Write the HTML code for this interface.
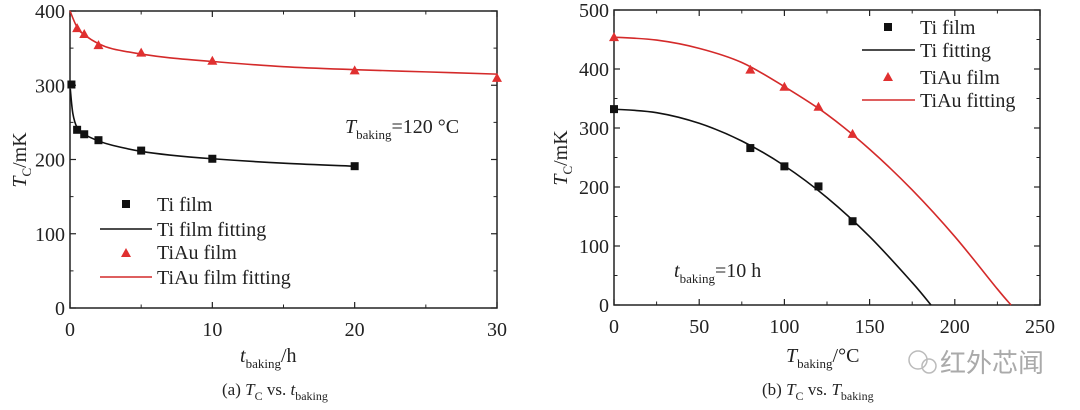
<!DOCTYPE html>
<html><head><meta charset="utf-8"><style>
html,body{margin:0;padding:0;background:#fff;width:1080px;height:410px;overflow:hidden}
svg{font-family:"Liberation Serif",serif;}
text{fill:#222}
</style></head><body>
<svg id="chart" width="1080" height="410" viewBox="0 0 1080 410" xmlns="http://www.w3.org/2000/svg"></svg>
<script>
// Panel (a)
const aTiX=[0.1,0.5,1,2,5,10,20];
const aTiY=[301,240,234,226,212,201,191];
const aAuX=[0.5,1,2,5,10,20,30];
const aAuY=[377,369,354,344,333,320,310];
const aTiFitX=[0.02,0.2,0.5,1,2,3,5,7,10,15,20];
const aTiFitY=[295,262,243,234,225,219,211,206,201,195,191];
const aAuFitX=[0,0.5,1,2,3,5,7,10,15,20,25,30];
const aAuFitY=[400,378,368,356,349,342,337,332,325,321,318,315];
const aXTicks=[0,10,20,30];
const aYTicks=[0,100,200,300,400];
// Panel (b)
const bTiX=[0,80,100,120,140];
const bTiY=[332,266,235,201,142];
const bAuX=[0,80,100,120,140];
const bAuY=[454,399,370,336,290];
const bTiFitX=[0,25,50,75,100,125,150,175,186];
const bTiFitY=[332,326,308,278,236,182,116,38,0];
const bAuFitX=[0,25,50,75,100,125,150,175,200,225,233];
const bAuFitY=[454,449,435,411,370,323,264,195,116,27,0];
const bXTicks=[0,50,100,150,200,250];
const bYTicks=[0,100,200,300,400,500];

const svg=document.getElementById('chart');
const NS='http://www.w3.org/2000/svg';
function el(tag,attrs,parent){const e=document.createElementNS(NS,tag);for(const k in attrs)e.setAttribute(k,attrs[k]);(parent||svg).appendChild(e);return e;}
function smooth(pts){let d='M'+pts[0][0]+','+pts[0][1];for(let i=0;i<pts.length-1;i++){const p0=pts[i-1]||pts[i],p1=pts[i],p2=pts[i+1],p3=pts[i+2]||p2;
d+=' C'+(p1[0]+(p2[0]-p0[0])/6)+','+(p1[1]+(p2[1]-p0[1])/6)+' '+(p2[0]-(p3[0]-p1[0])/6)+','+(p2[1]-(p3[1]-p1[1])/6)+' '+p2[0]+','+p2[1];}return d;}

function panel(o){
  const sx=v=>o.x0+(v-o.xmin)/(o.xmax-o.xmin)*(o.x1-o.x0);
  const sy=v=>o.y0-(v-o.ymin)/(o.ymax-o.ymin)*(o.y0-o.y1);
  const g=el('g',{});
  
  
  const box=el('rect',{x:o.x0,y:o.y1,width:o.x1-o.x0,height:o.y0-o.y1,fill:'none',stroke:'#222','stroke-width':1.5},g);
  
  
  for(let i=0;i<o.xt.length;i++){
    const v=o.xt[i],x=sx(v);
    el('line',{x1:x,x2:x,y1:o.y0,y2:o.y0-6,stroke:'#222','stroke-width':1.2},g);
    el('line',{x1:x,x2:x,y1:o.y1,y2:o.y1+6,stroke:'#222','stroke-width':1.2},g);
    const t=el('text',{x:x,y:o.y0+28,'font-size':20,'text-anchor':'middle'},g);t.textContent=v;
    
    
    if(i<o.xt.length-1){const m=sx((v+o.xt[i+1])/2);
      el('line',{x1:m,x2:m,y1:o.y0,y2:o.y0-3.5,stroke:'#222','stroke-width':1},g);
      el('line',{x1:m,x2:m,y1:o.y1,y2:o.y1+3.5,stroke:'#222','stroke-width':1},g);}
  }
  for(let i=0;i<o.yt.length;i++){
    const v=o.yt[i],y=sy(v);
    el('line',{x1:o.x0,x2:o.x0+6,y1:y,y2:y,stroke:'#222','stroke-width':1.2},g);
    el('line',{x1:o.x1,x2:o.x1-6,y1:y,y2:y,stroke:'#222','stroke-width':1.2},g);
    const t=el('text',{x:o.x0-5,y:y+7,'font-size':20,'text-anchor':'end'},g);t.textContent=v;
    
    
    if(i<o.yt.length-1){const m=sy((v+o.yt[i+1])/2);
      el('line',{x1:o.x0,x2:o.x0+3.5,y1:m,y2:m,stroke:'#222','stroke-width':1},g);
      el('line',{x1:o.x1,x2:o.x1-3.5,y1:m,y2:m,stroke:'#222','stroke-width':1},g);}
  }
  const l1=el('path',{d:smooth(o.tiFitX.map((v,i)=>[sx(v),sy(o.tiFitY[i])])),fill:'none',stroke:'#111','stroke-width':1.6},g);
  
  
  const l2=el('path',{d:smooth(o.auFitX.map((v,i)=>[sx(v),sy(o.auFitY[i])])),fill:'none',stroke:'#d42a2a','stroke-width':1.6},g);
  
  
  o.tiX.forEach((v,i)=>{const r=el('rect',{x:sx(v)-4,y:sy(o.tiY[i])-4,width:8,height:8,fill:'#111'},g);
    
    });
  o.auX.forEach((v,i)=>{const x=sx(v),y=sy(o.auY[i]);const p=el('polygon',{points:(x-5)+','+(y+4)+' '+(x+5)+','+(y+4)+' '+x+','+(y-5),fill:'#e03030'},g);
    
    });
  return g;
}
panel({name:'panel-a',x0:70,x1:497,y0:308,y1:11,xmin:0,xmax:30,ymin:0,ymax:400,xt:aXTicks,yt:aYTicks,
  tiX:aTiX,tiY:aTiY,auX:aAuX,auY:aAuY,tiFitX:aTiFitX,tiFitY:aTiFitY,auFitX:aAuFitX,auFitY:aAuFitY});
panel({name:'panel-b',x0:614,x1:1040,y0:305,y1:10,xmin:0,xmax:250,ymin:0,ymax:500,xt:bXTicks,yt:bYTicks,
  tiX:bTiX,tiY:bTiY,auX:bAuX,auY:bAuY,tiFitX:bTiFitX,tiFitY:bTiFitY,auFitX:bAuFitX,auFitY:bAuFitY});
</script>
<svg width="1080" height="410" style="position:absolute;left:0;top:0" xmlns="http://www.w3.org/2000/svg">
<g font-size="20">
 <rect x="122" y="200" width="8" height="8" fill="#111"/><text x="157" y="211">Ti film</text>
 <line x1="100" x2="152" y1="229" y2="229" stroke="#111" stroke-width="1.6"/><text x="157" y="236">Ti film fitting</text>
 <polygon points="121,257 131,257 126,248" fill="#e03030"/><text x="157" y="259">TiAu film</text>
 <line x1="100" x2="152" y1="277" y2="277" stroke="#d42a2a" stroke-width="1.6"/><text x="157" y="284">TiAu film fitting</text>
</g>
<g font-size="20">
 <rect x="884" y="23" width="8" height="8" fill="#111"/><text x="920" y="34">Ti film</text>
 <line x1="862" x2="915" y1="50" y2="50" stroke="#111" stroke-width="1.6"/><text x="920" y="57">Ti fitting</text>
 <polygon points="883,81 893,81 888,72" fill="#e03030"/><text x="920" y="84">TiAu film</text>
 <line x1="862" x2="915" y1="100" y2="100" stroke="#d42a2a" stroke-width="1.6"/><text x="920" y="107">TiAu fitting</text>
</g>
<text x="345" y="133" font-size="20"><tspan font-style="italic">T</tspan><tspan font-size="13" dy="6">baking</tspan><tspan dy="-6">=120 °C</tspan></text>
<text x="674" y="277" font-size="20"><tspan font-style="italic">t</tspan><tspan font-size="13" dy="6">baking</tspan><tspan dy="-6">=10 h</tspan></text>
<text transform="translate(26,160) rotate(-90)" font-size="20" text-anchor="middle"><tspan font-style="italic">T</tspan><tspan font-size="13" dy="5">C</tspan><tspan dy="-5">/mK</tspan></text>
<text transform="translate(567,158) rotate(-90)" font-size="20" text-anchor="middle"><tspan font-style="italic">T</tspan><tspan font-size="13" dy="5">C</tspan><tspan dy="-5">/mK</tspan></text>
<text x="240" y="362" font-size="20"><tspan font-style="italic">t</tspan><tspan font-size="13" dy="6">baking</tspan><tspan dy="-6">/h</tspan></text>
<text x="786" y="362" font-size="20"><tspan font-style="italic">T</tspan><tspan font-size="13" dy="6">baking</tspan><tspan dy="-6">/°C</tspan></text>
<text x="222" y="395" font-size="17">(a) <tspan font-style="italic">T</tspan><tspan font-size="12" dy="5">C</tspan><tspan dy="-5"> vs. </tspan><tspan font-style="italic">t</tspan><tspan font-size="12" dy="5">baking</tspan></text>
<text x="762" y="395" font-size="17">(b) <tspan font-style="italic">T</tspan><tspan font-size="12" dy="5">C</tspan><tspan dy="-5"> vs. </tspan><tspan font-style="italic">T</tspan><tspan font-size="12" dy="5">baking</tspan></text>
<g>
 <circle cx="918" cy="360" r="9" fill="none" stroke="#bbb" stroke-width="1.5"/>
 <circle cx="929" cy="366" r="7" fill="none" stroke="#bbb" stroke-width="1.5"/>
 <text x="940" y="372" font-size="26" style="fill:#aaa;font-family:'Noto Sans CJK SC',sans-serif">红外芯闻</text>
</g>
</svg>
</body></html>
